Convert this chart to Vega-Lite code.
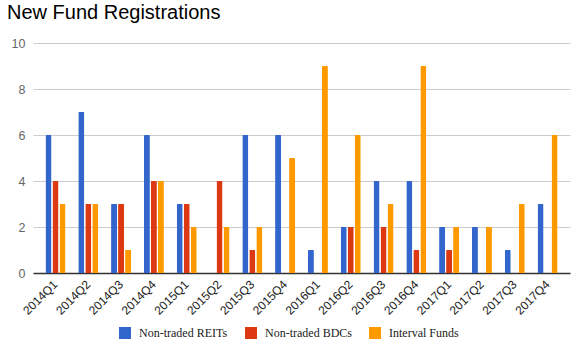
{
  "$schema": "https://vega.github.io/schema/vega-lite/v6.json",
  "width": 537,
  "height": 230,
  "autosize": {"type": "none"},
  "padding": {"left": 33, "top": 43, "right": 7, "bottom": 80},
  "background": "white",
  "title": {
    "text": "New Fund Registrations",
    "anchor": "start",
    "frame": "group",
    "dx": -26,
    "dy": 2,
    "baseline": "alphabetic",
    "offset": 0,
    "font": "Liberation Sans",
    "fontSize": 20,
    "fontWeight": "normal",
    "color": "#000000"
  },
  "data": {
    "values": [
      {"quarter": "2014Q1", "series": "Non-traded REITs", "value": 6},
      {"quarter": "2014Q1", "series": "Non-traded BDCs", "value": 4},
      {"quarter": "2014Q1", "series": "Interval Funds", "value": 3},
      {"quarter": "2014Q2", "series": "Non-traded REITs", "value": 7},
      {"quarter": "2014Q2", "series": "Non-traded BDCs", "value": 3},
      {"quarter": "2014Q2", "series": "Interval Funds", "value": 3},
      {"quarter": "2014Q3", "series": "Non-traded REITs", "value": 3},
      {"quarter": "2014Q3", "series": "Non-traded BDCs", "value": 3},
      {"quarter": "2014Q3", "series": "Interval Funds", "value": 1},
      {"quarter": "2014Q4", "series": "Non-traded REITs", "value": 6},
      {"quarter": "2014Q4", "series": "Non-traded BDCs", "value": 4},
      {"quarter": "2014Q4", "series": "Interval Funds", "value": 4},
      {"quarter": "2015Q1", "series": "Non-traded REITs", "value": 3},
      {"quarter": "2015Q1", "series": "Non-traded BDCs", "value": 3},
      {"quarter": "2015Q1", "series": "Interval Funds", "value": 2},
      {"quarter": "2015Q2", "series": "Non-traded REITs", "value": 0},
      {"quarter": "2015Q2", "series": "Non-traded BDCs", "value": 4},
      {"quarter": "2015Q2", "series": "Interval Funds", "value": 2},
      {"quarter": "2015Q3", "series": "Non-traded REITs", "value": 6},
      {"quarter": "2015Q3", "series": "Non-traded BDCs", "value": 1},
      {"quarter": "2015Q3", "series": "Interval Funds", "value": 2},
      {"quarter": "2015Q4", "series": "Non-traded REITs", "value": 6},
      {"quarter": "2015Q4", "series": "Non-traded BDCs", "value": 0},
      {"quarter": "2015Q4", "series": "Interval Funds", "value": 5},
      {"quarter": "2016Q1", "series": "Non-traded REITs", "value": 1},
      {"quarter": "2016Q1", "series": "Non-traded BDCs", "value": 0},
      {"quarter": "2016Q1", "series": "Interval Funds", "value": 9},
      {"quarter": "2016Q2", "series": "Non-traded REITs", "value": 2},
      {"quarter": "2016Q2", "series": "Non-traded BDCs", "value": 2},
      {"quarter": "2016Q2", "series": "Interval Funds", "value": 6},
      {"quarter": "2016Q3", "series": "Non-traded REITs", "value": 4},
      {"quarter": "2016Q3", "series": "Non-traded BDCs", "value": 2},
      {"quarter": "2016Q3", "series": "Interval Funds", "value": 3},
      {"quarter": "2016Q4", "series": "Non-traded REITs", "value": 4},
      {"quarter": "2016Q4", "series": "Non-traded BDCs", "value": 1},
      {"quarter": "2016Q4", "series": "Interval Funds", "value": 9},
      {"quarter": "2017Q1", "series": "Non-traded REITs", "value": 2},
      {"quarter": "2017Q1", "series": "Non-traded BDCs", "value": 1},
      {"quarter": "2017Q1", "series": "Interval Funds", "value": 2},
      {"quarter": "2017Q2", "series": "Non-traded REITs", "value": 2},
      {"quarter": "2017Q2", "series": "Non-traded BDCs", "value": 0},
      {"quarter": "2017Q2", "series": "Interval Funds", "value": 2},
      {"quarter": "2017Q3", "series": "Non-traded REITs", "value": 1},
      {"quarter": "2017Q3", "series": "Non-traded BDCs", "value": 0},
      {"quarter": "2017Q3", "series": "Interval Funds", "value": 3},
      {"quarter": "2017Q4", "series": "Non-traded REITs", "value": 3},
      {"quarter": "2017Q4", "series": "Non-traded BDCs", "value": 0},
      {"quarter": "2017Q4", "series": "Interval Funds", "value": 6}
    ]
  },
  "mark": {"type": "bar", "cornerRadiusTopLeft": 1, "cornerRadiusTopRight": 1},
  "encoding": {
    "x": {
      "field": "quarter",
      "type": "nominal",
      "sort": null,
      "scale": {"paddingInner": 0.39, "paddingOuter": 0.38},
      "axis": {
        "title": null,
        "labelAngle": -45,
        "labelAlign": "right",
        "labelBaseline": "middle",
        "labelFont": "Liberation Sans",
        "labelFontSize": 12,
        "labelColor": "#222222",
        "labelPadding": 9,
        "ticks": false,
        "domainColor": "#333333",
        "domainWidth": 1.3,
        "grid": false
      }
    },
    "xOffset": {
      "field": "series",
      "sort": ["Non-traded REITs", "Non-traded BDCs", "Interval Funds"],
      "scale": {"paddingInner": 0.143, "paddingOuter": 0}
    },
    "y": {
      "field": "value",
      "type": "quantitative",
      "scale": {"domain": [0, 10], "nice": false},
      "axis": {
        "title": null,
        "values": [0, 2, 4, 6, 8, 10],
        "domain": false,
        "ticks": false,
        "gridColor": "#cccccc",
        "labelFont": "Liberation Sans",
        "labelFontSize": 12.5,
        "labelColor": "#666666",
        "labelPadding": 8
      }
    },
    "color": {
      "field": "series",
      "type": "nominal",
      "scale": {
        "domain": ["Non-traded REITs", "Non-traded BDCs", "Interval Funds"],
        "range": ["#3366cc", "#dc3912", "#ff9900"]
      },
      "legend": {
        "title": null,
        "orient": "none",
        "direction": "horizontal",
        "legendX": 86,
        "legendY": 284,
        "padding": 0,
        "symbolType": "square",
        "symbolSize": 144,
        "symbolStrokeWidth": 0,
        "labelFont": "Liberation Serif, serif",
        "labelFontSize": 12,
        "labelColor": "#222222",
        "labelOffset": 8,
        "columnPadding": 17
      }
    }
  },
  "config": {"view": {"stroke": null}}
}
